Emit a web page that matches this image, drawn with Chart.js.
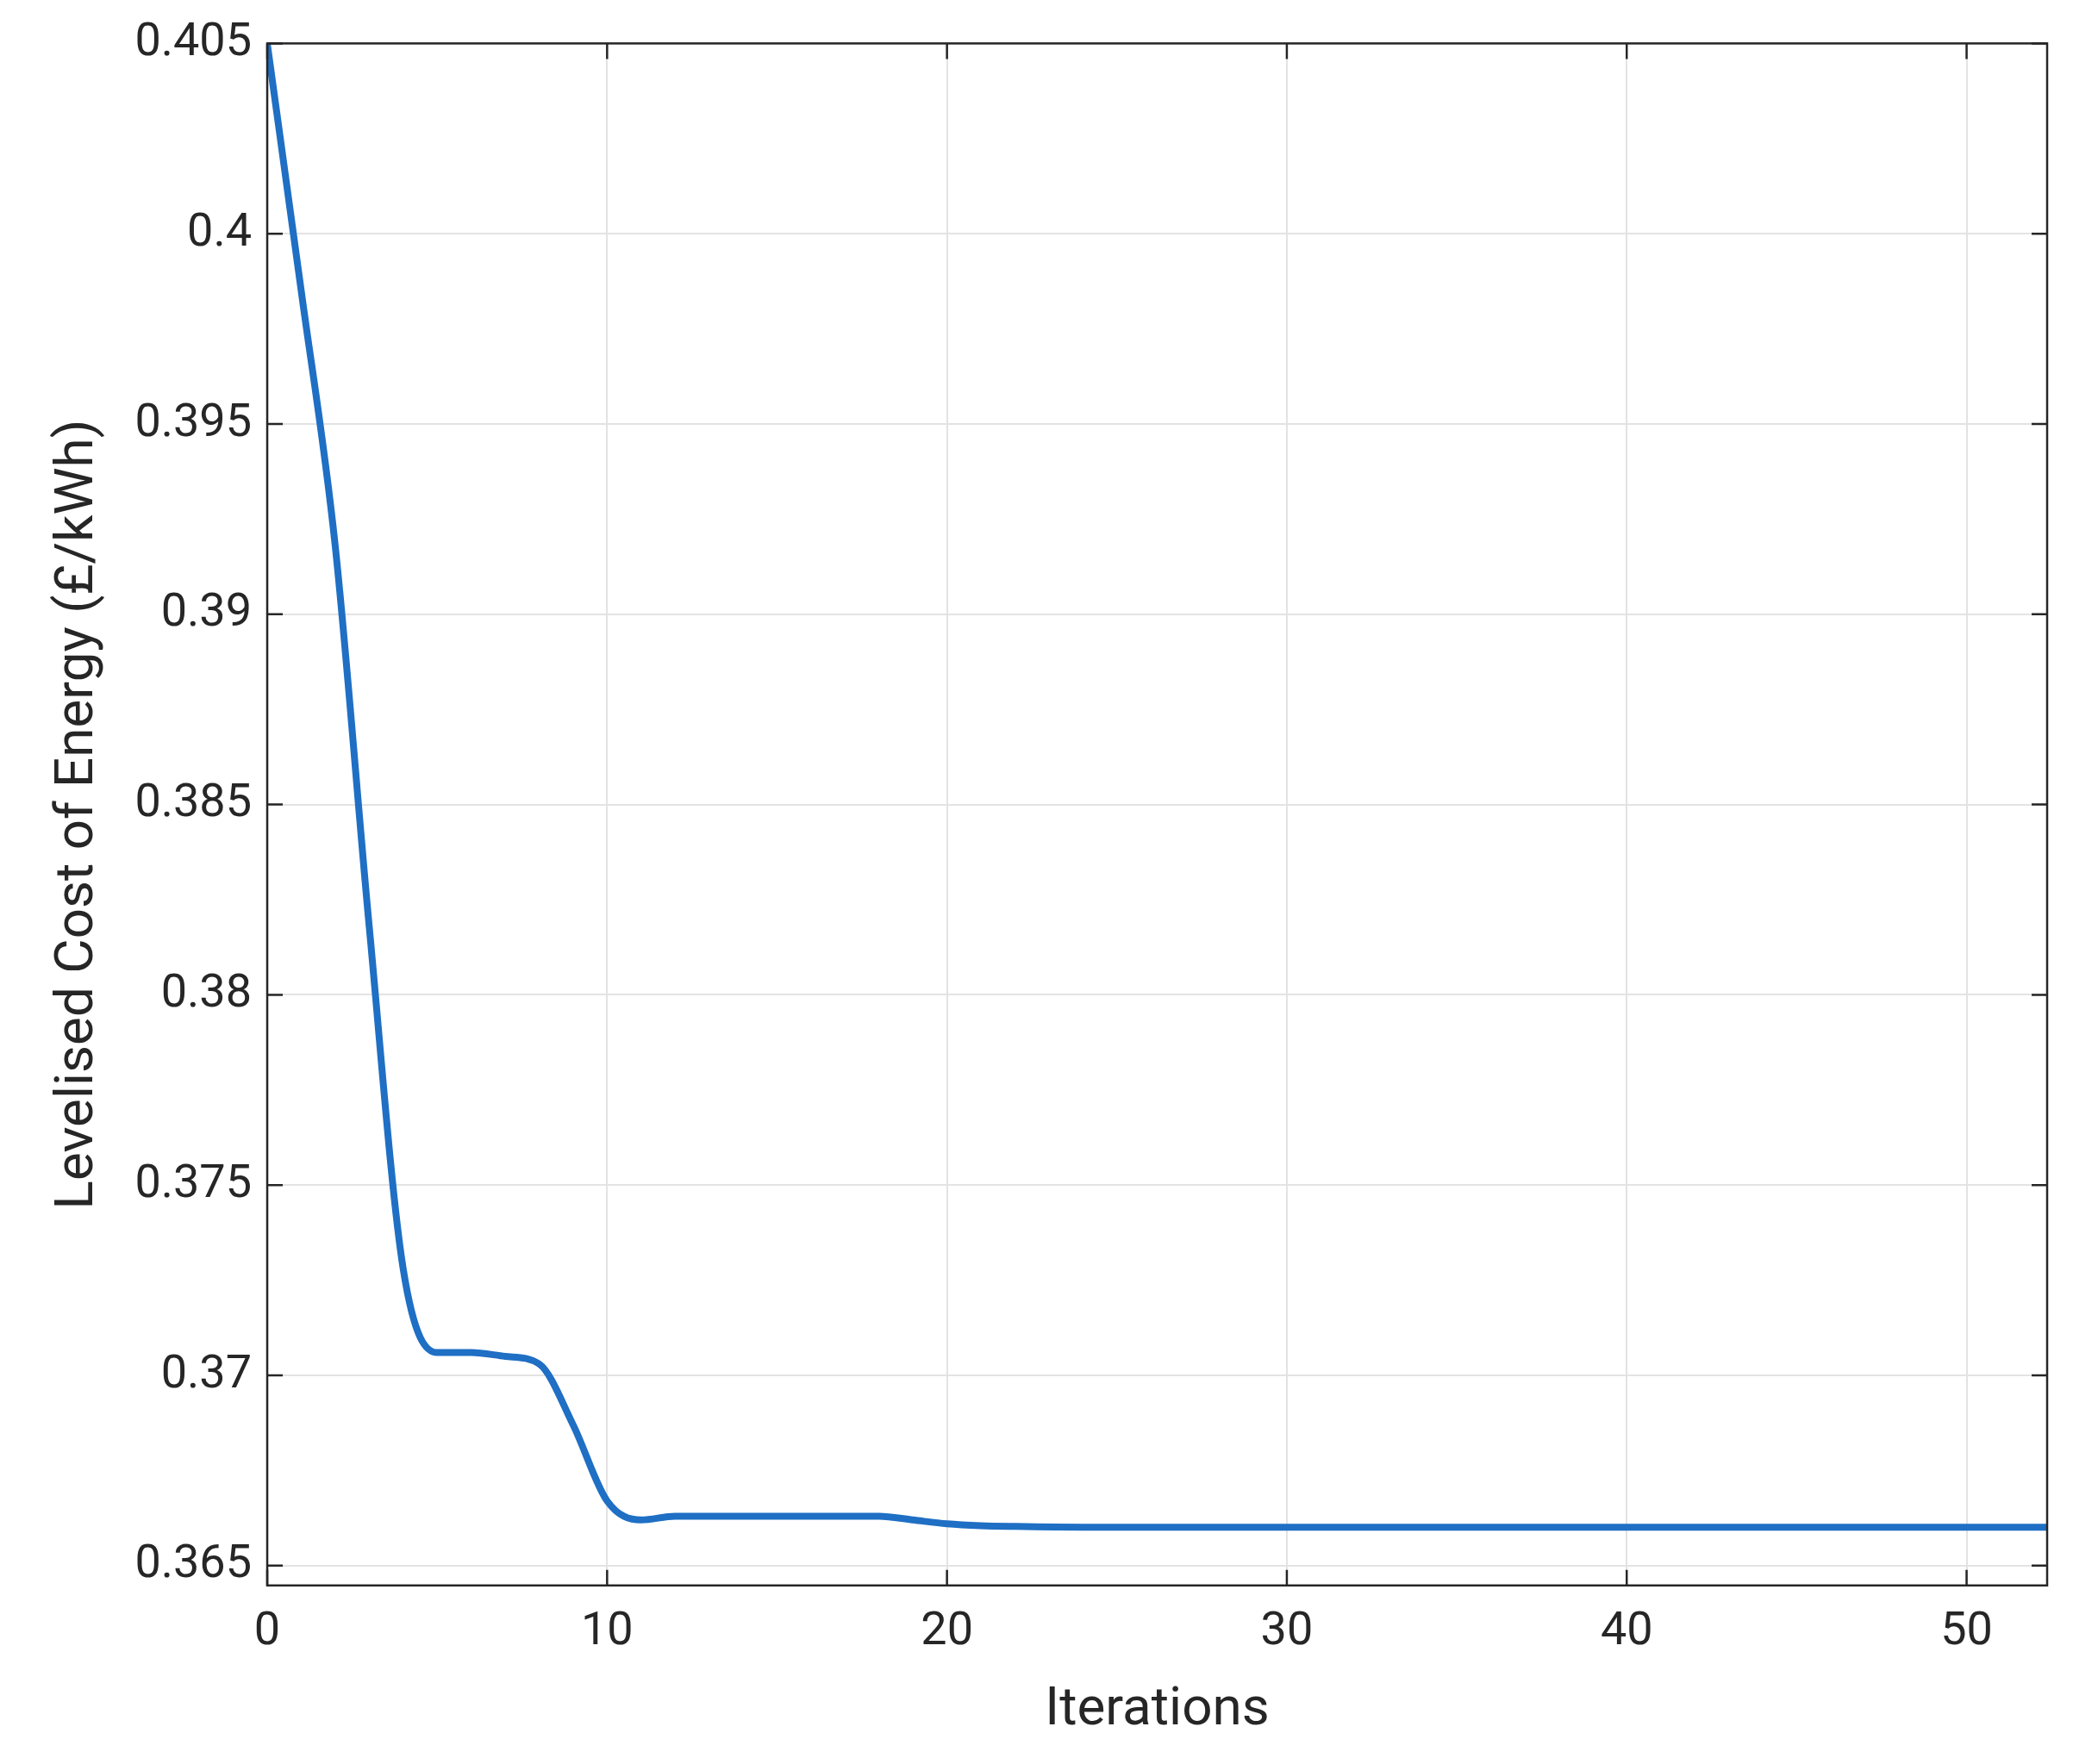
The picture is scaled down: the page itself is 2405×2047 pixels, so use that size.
<!DOCTYPE html>
<html>
<head>
<meta charset="utf-8">
<script src="https://cdn.jsdelivr.net/npm/chart.js@4/dist/chart.umd.min.js"></script>
<style>
  body { margin: 0; background: #fff; }
  #wrap { width: 2405px; height: 2047px; }
</style>
</head>
<body>
<div id="wrap"><canvas id="lcoeChart"></canvas></div>
<script>
// data
const iterations = [0, 1, 2, 3, 4, 5, 6, 7, 8, 9, 10, 11, 12, 14, 16, 18, 19, 20, 21, 22, 24, 30, 40, 50, 52.37];
const lcoe = [0.405, 0.3985, 0.3918, 0.3818, 0.3728, 0.3706, 0.3706, 0.3705, 0.3703, 0.3687, 0.3667, 0.3662, 0.3663, 0.3663, 0.3663, 0.3663, 0.3662, 0.3661, 0.36605, 0.36603, 0.36601, 0.36601, 0.36601, 0.36601, 0.36601];
const xTicks = [0, 10, 20, 30, 40, 50];
const yTicks = [0.365, 0.37, 0.375, 0.38, 0.385, 0.39, 0.395, 0.4, 0.405];

// box + inward tick marks like the matlab axes
const boxPlugin = {
    id: 'box',
    afterDraw(chart) {
        const { ctx, chartArea: a, scales } = chart;
        ctx.save();
        ctx.strokeStyle = '#262626';
        ctx.lineWidth = 2.5;
        ctx.strokeRect(a.left, a.top, a.right - a.left, a.bottom - a.top);
        const len = 18;
        ctx.beginPath();
        xTicks.forEach(v => {
            const px = scales.x.getPixelForValue(v);
            ctx.moveTo(px, a.bottom); ctx.lineTo(px, a.bottom - len);
            ctx.moveTo(px, a.top); ctx.lineTo(px, a.top + len);
        });
        yTicks.forEach(v => {
            const py = scales.y.getPixelForValue(v);
            ctx.moveTo(a.left, py); ctx.lineTo(a.left + len, py);
            ctx.moveTo(a.right, py); ctx.lineTo(a.right - len, py);
        });
        ctx.stroke();
        ctx.restore();
    }
};

const ctx = document.getElementById('lcoeChart').getContext('2d');
new Chart(ctx, {
    type: 'line',
    data: {
        datasets: [{
            data: iterations.map((x, i) => ({ x: x, y: lcoe[i] })),
            borderColor: '#1f6fc4',
            borderWidth: 8,
            pointRadius: 0,
            fill: false,
            cubicInterpolationMode: 'monotone'
        }]
    },
    options: {
        responsive: true,
        maintainAspectRatio: false,
        animation: false,
        layout: { padding: { top: 30, right: 30, left: 50, bottom: 20 } },
        plugins: {
            legend: { display: false },
            tooltip: { enabled: false }
        },
        scales: {
            x: {
                type: 'linear',
                min: 0,
                max: 52.37,
                afterBuildTicks: axis => { axis.ticks = xTicks.map(v => ({ value: v })); },
                grid: { color: '#e3e3e3', lineWidth: 2, drawTicks: false },
                border: { display: false },
                ticks: { color: '#262626', font: { family: 'Roboto', size: 54 }, padding: 22, maxRotation: 0 },
                title: { display: true, text: 'Iterations', color: '#262626', font: { family: 'Roboto', size: 62 }, padding: { top: 0 } }
            },
            y: {
                min: 0.36448,
                max: 0.405,
                afterBuildTicks: axis => { axis.ticks = yTicks.map(v => ({ value: v })); },
                grid: { color: '#e3e3e3', lineWidth: 2, drawTicks: false },
                border: { display: false },
                ticks: {
                    color: '#262626',
                    font: { family: 'Roboto', size: 54 },
                    padding: 18,
                    callback: v => String(parseFloat(v.toFixed(3)))
                },
                title: { display: true, text: 'Levelised Cost of Energy (£/kWh)', color: '#262626', font: { family: 'Roboto', size: 62 }, padding: { bottom: 10 } }
            }
        }
    },
    plugins: [boxPlugin]
});
</script>
</body>
</html>
